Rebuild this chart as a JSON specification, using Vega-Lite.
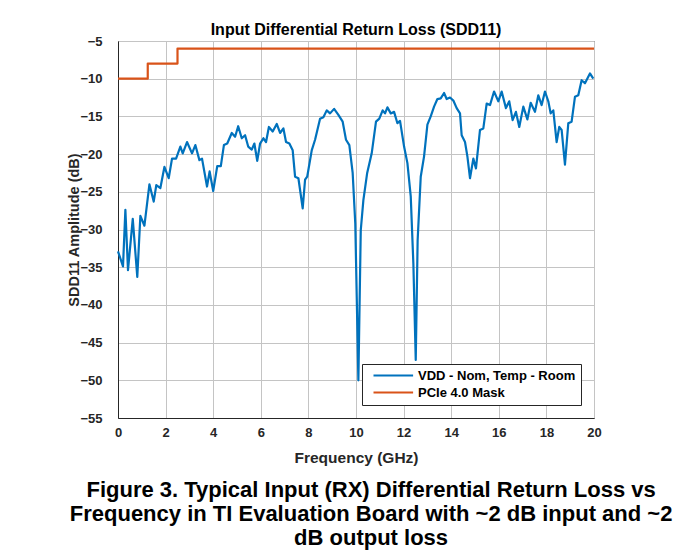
{
  "$schema": "https://vega.github.io/schema/vega-lite/v6.json",
  "background": "white",
  "padding": {"left": 66, "top": 21, "right": 5, "bottom": 3},
  "config": {
    "font": "Liberation Sans",
    "view": {"stroke": "#262626", "strokeWidth": 1},
    "axis": {
      "labelFont": "Liberation Sans", "labelFontSize": 13, "labelFontWeight": "bold", "labelColor": "#262626",
      "titleFont": "Liberation Sans", "titleFontWeight": "bold", "titleColor": "#262626",
      "domainColor": "#262626", "gridColor": "#c4c4c4", "gridOpacity": 1, "ticks": false, "labelFlush": false
    }
  },
  "resolve": {"legend": {"color": "independent"}},
  "title": {
    "text": ["Figure 3. Typical Input (RX) Differential Return Loss vs", "Frequency in TI Evaluation Board with ~2 dB input and ~2", "dB output loss"],
    "orient": "bottom", "anchor": "middle", "fontSize": 22, "fontWeight": "bold", "font": "Liberation Sans",
    "color": "black", "lineHeight": 24, "offset": 14, "dx": 37
  },
  "vconcat": [
    {
      "width": 476,
      "height": 377,
      "title": {"text": "Input Differential Return Loss (SDD11)", "fontSize": 16, "fontWeight": "bold", "font": "Liberation Sans", "color": "black", "offset": -3},
      "data": {"values": [
        {"s":"VDD - Nom, Temp - Room","o":0,"f":0.00,"v":-32.9},
        {"s":"VDD - Nom, Temp - Room","o":1,"f":0.21,"v":-34.9},
        {"s":"VDD - Nom, Temp - Room","o":2,"f":0.31,"v":-27.4},
        {"s":"VDD - Nom, Temp - Room","o":3,"f":0.42,"v":-35.4},
        {"s":"VDD - Nom, Temp - Room","o":4,"f":0.62,"v":-28.6},
        {"s":"VDD - Nom, Temp - Room","o":5,"f":0.81,"v":-36.3},
        {"s":"VDD - Nom, Temp - Room","o":6,"f":0.94,"v":-28.2},
        {"s":"VDD - Nom, Temp - Room","o":7,"f":1.11,"v":-29.5},
        {"s":"VDD - Nom, Temp - Room","o":8,"f":1.32,"v":-24.0},
        {"s":"VDD - Nom, Temp - Room","o":9,"f":1.50,"v":-26.3},
        {"s":"VDD - Nom, Temp - Room","o":10,"f":1.61,"v":-24.1},
        {"s":"VDD - Nom, Temp - Room","o":11,"f":1.78,"v":-24.5},
        {"s":"VDD - Nom, Temp - Room","o":12,"f":1.95,"v":-21.7},
        {"s":"VDD - Nom, Temp - Room","o":13,"f":2.13,"v":-23.2},
        {"s":"VDD - Nom, Temp - Room","o":14,"f":2.27,"v":-20.6},
        {"s":"VDD - Nom, Temp - Room","o":15,"f":2.44,"v":-20.6},
        {"s":"VDD - Nom, Temp - Room","o":16,"f":2.62,"v":-19.0},
        {"s":"VDD - Nom, Temp - Room","o":17,"f":2.72,"v":-19.9},
        {"s":"VDD - Nom, Temp - Room","o":18,"f":2.90,"v":-18.4},
        {"s":"VDD - Nom, Temp - Room","o":19,"f":3.11,"v":-19.9},
        {"s":"VDD - Nom, Temp - Room","o":20,"f":3.25,"v":-18.8},
        {"s":"VDD - Nom, Temp - Room","o":21,"f":3.42,"v":-20.8},
        {"s":"VDD - Nom, Temp - Room","o":22,"f":3.53,"v":-20.6},
        {"s":"VDD - Nom, Temp - Room","o":23,"f":3.74,"v":-24.3},
        {"s":"VDD - Nom, Temp - Room","o":24,"f":3.85,"v":-22.3},
        {"s":"VDD - Nom, Temp - Room","o":25,"f":4.00,"v":-24.9},
        {"s":"VDD - Nom, Temp - Room","o":26,"f":4.17,"v":-21.6},
        {"s":"VDD - Nom, Temp - Room","o":27,"f":4.32,"v":-21.6},
        {"s":"VDD - Nom, Temp - Room","o":28,"f":4.45,"v":-18.8},
        {"s":"VDD - Nom, Temp - Room","o":29,"f":4.59,"v":-18.6},
        {"s":"VDD - Nom, Temp - Room","o":30,"f":4.78,"v":-17.2},
        {"s":"VDD - Nom, Temp - Room","o":31,"f":4.92,"v":-17.7},
        {"s":"VDD - Nom, Temp - Room","o":32,"f":5.05,"v":-16.3},
        {"s":"VDD - Nom, Temp - Room","o":33,"f":5.20,"v":-17.9},
        {"s":"VDD - Nom, Temp - Room","o":34,"f":5.34,"v":-17.5},
        {"s":"VDD - Nom, Temp - Room","o":35,"f":5.47,"v":-19.0},
        {"s":"VDD - Nom, Temp - Room","o":36,"f":5.62,"v":-19.4},
        {"s":"VDD - Nom, Temp - Room","o":37,"f":5.73,"v":-18.6},
        {"s":"VDD - Nom, Temp - Room","o":38,"f":5.85,"v":-20.9},
        {"s":"VDD - Nom, Temp - Room","o":39,"f":5.97,"v":-18.6},
        {"s":"VDD - Nom, Temp - Room","o":40,"f":6.11,"v":-17.9},
        {"s":"VDD - Nom, Temp - Room","o":41,"f":6.22,"v":-18.4},
        {"s":"VDD - Nom, Temp - Room","o":42,"f":6.34,"v":-16.4},
        {"s":"VDD - Nom, Temp - Room","o":43,"f":6.50,"v":-17.0},
        {"s":"VDD - Nom, Temp - Room","o":44,"f":6.67,"v":-16.0},
        {"s":"VDD - Nom, Temp - Room","o":45,"f":6.81,"v":-17.2},
        {"s":"VDD - Nom, Temp - Room","o":46,"f":6.95,"v":-16.6},
        {"s":"VDD - Nom, Temp - Room","o":47,"f":7.06,"v":-18.4},
        {"s":"VDD - Nom, Temp - Room","o":48,"f":7.20,"v":-18.6},
        {"s":"VDD - Nom, Temp - Room","o":49,"f":7.34,"v":-19.5},
        {"s":"VDD - Nom, Temp - Room","o":50,"f":7.44,"v":-23.0},
        {"s":"VDD - Nom, Temp - Room","o":51,"f":7.58,"v":-23.2},
        {"s":"VDD - Nom, Temp - Room","o":52,"f":7.76,"v":-27.2},
        {"s":"VDD - Nom, Temp - Room","o":53,"f":7.86,"v":-23.4},
        {"s":"VDD - Nom, Temp - Room","o":54,"f":7.95,"v":-23.0},
        {"s":"VDD - Nom, Temp - Room","o":55,"f":8.14,"v":-19.5},
        {"s":"VDD - Nom, Temp - Room","o":56,"f":8.28,"v":-18.1},
        {"s":"VDD - Nom, Temp - Room","o":57,"f":8.49,"v":-15.3},
        {"s":"VDD - Nom, Temp - Room","o":58,"f":8.63,"v":-15.1},
        {"s":"VDD - Nom, Temp - Room","o":59,"f":8.77,"v":-14.2},
        {"s":"VDD - Nom, Temp - Room","o":60,"f":8.91,"v":-14.6},
        {"s":"VDD - Nom, Temp - Room","o":61,"f":9.08,"v":-14.0},
        {"s":"VDD - Nom, Temp - Room","o":62,"f":9.26,"v":-14.8},
        {"s":"VDD - Nom, Temp - Room","o":63,"f":9.44,"v":-15.7},
        {"s":"VDD - Nom, Temp - Room","o":64,"f":9.58,"v":-18.1},
        {"s":"VDD - Nom, Temp - Room","o":65,"f":9.72,"v":-18.8},
        {"s":"VDD - Nom, Temp - Room","o":66,"f":9.86,"v":-22.5},
        {"s":"VDD - Nom, Temp - Room","o":67,"f":9.97,"v":-29.2},
        {"s":"VDD - Nom, Temp - Room","o":68,"f":10.10,"v":-50.0},
        {"s":"VDD - Nom, Temp - Room","o":69,"f":10.20,"v":-30.1},
        {"s":"VDD - Nom, Temp - Room","o":70,"f":10.31,"v":-26.1},
        {"s":"VDD - Nom, Temp - Room","o":71,"f":10.47,"v":-22.5},
        {"s":"VDD - Nom, Temp - Room","o":72,"f":10.66,"v":-19.9},
        {"s":"VDD - Nom, Temp - Room","o":73,"f":10.84,"v":-15.7},
        {"s":"VDD - Nom, Temp - Room","o":74,"f":10.98,"v":-15.3},
        {"s":"VDD - Nom, Temp - Room","o":75,"f":11.12,"v":-14.2},
        {"s":"VDD - Nom, Temp - Room","o":76,"f":11.22,"v":-14.6},
        {"s":"VDD - Nom, Temp - Room","o":77,"f":11.32,"v":-13.8},
        {"s":"VDD - Nom, Temp - Room","o":78,"f":11.46,"v":-14.6},
        {"s":"VDD - Nom, Temp - Room","o":79,"f":11.60,"v":-14.4},
        {"s":"VDD - Nom, Temp - Room","o":80,"f":11.74,"v":-15.9},
        {"s":"VDD - Nom, Temp - Room","o":81,"f":11.85,"v":-15.6},
        {"s":"VDD - Nom, Temp - Room","o":82,"f":12.02,"v":-19.0},
        {"s":"VDD - Nom, Temp - Room","o":83,"f":12.16,"v":-21.2},
        {"s":"VDD - Nom, Temp - Room","o":84,"f":12.30,"v":-25.6},
        {"s":"VDD - Nom, Temp - Room","o":85,"f":12.41,"v":-34.5},
        {"s":"VDD - Nom, Temp - Room","o":86,"f":12.51,"v":-47.3},
        {"s":"VDD - Nom, Temp - Room","o":87,"f":12.59,"v":-31.4},
        {"s":"VDD - Nom, Temp - Room","o":88,"f":12.72,"v":-23.0},
        {"s":"VDD - Nom, Temp - Room","o":89,"f":12.86,"v":-20.3},
        {"s":"VDD - Nom, Temp - Room","o":90,"f":13.00,"v":-16.1},
        {"s":"VDD - Nom, Temp - Room","o":91,"f":13.14,"v":-15.0},
        {"s":"VDD - Nom, Temp - Room","o":92,"f":13.28,"v":-13.7},
        {"s":"VDD - Nom, Temp - Room","o":93,"f":13.42,"v":-12.7},
        {"s":"VDD - Nom, Temp - Room","o":94,"f":13.56,"v":-12.6},
        {"s":"VDD - Nom, Temp - Room","o":95,"f":13.70,"v":-11.9},
        {"s":"VDD - Nom, Temp - Room","o":96,"f":13.81,"v":-12.7},
        {"s":"VDD - Nom, Temp - Room","o":97,"f":13.95,"v":-12.5},
        {"s":"VDD - Nom, Temp - Room","o":98,"f":14.09,"v":-12.9},
        {"s":"VDD - Nom, Temp - Room","o":99,"f":14.23,"v":-13.9},
        {"s":"VDD - Nom, Temp - Room","o":100,"f":14.37,"v":-14.6},
        {"s":"VDD - Nom, Temp - Room","o":101,"f":14.44,"v":-17.5},
        {"s":"VDD - Nom, Temp - Room","o":102,"f":14.58,"v":-18.4},
        {"s":"VDD - Nom, Temp - Room","o":103,"f":14.68,"v":-20.3},
        {"s":"VDD - Nom, Temp - Room","o":104,"f":14.79,"v":-23.2},
        {"s":"VDD - Nom, Temp - Room","o":105,"f":14.93,"v":-20.6},
        {"s":"VDD - Nom, Temp - Room","o":106,"f":15.04,"v":-21.9},
        {"s":"VDD - Nom, Temp - Room","o":107,"f":15.21,"v":-16.8},
        {"s":"VDD - Nom, Temp - Room","o":108,"f":15.35,"v":-16.6},
        {"s":"VDD - Nom, Temp - Room","o":109,"f":15.49,"v":-13.3},
        {"s":"VDD - Nom, Temp - Room","o":110,"f":15.63,"v":-13.5},
        {"s":"VDD - Nom, Temp - Room","o":111,"f":15.80,"v":-11.7},
        {"s":"VDD - Nom, Temp - Room","o":112,"f":15.98,"v":-13.0},
        {"s":"VDD - Nom, Temp - Room","o":113,"f":16.12,"v":-11.7},
        {"s":"VDD - Nom, Temp - Room","o":114,"f":16.30,"v":-13.9},
        {"s":"VDD - Nom, Temp - Room","o":115,"f":16.44,"v":-13.0},
        {"s":"VDD - Nom, Temp - Room","o":116,"f":16.58,"v":-15.5},
        {"s":"VDD - Nom, Temp - Room","o":117,"f":16.72,"v":-14.4},
        {"s":"VDD - Nom, Temp - Room","o":118,"f":16.86,"v":-16.4},
        {"s":"VDD - Nom, Temp - Room","o":119,"f":17.03,"v":-13.7},
        {"s":"VDD - Nom, Temp - Room","o":120,"f":17.20,"v":-15.4},
        {"s":"VDD - Nom, Temp - Room","o":121,"f":17.34,"v":-13.2},
        {"s":"VDD - Nom, Temp - Room","o":122,"f":17.52,"v":-14.4},
        {"s":"VDD - Nom, Temp - Room","o":123,"f":17.66,"v":-12.2},
        {"s":"VDD - Nom, Temp - Room","o":124,"f":17.80,"v":-13.5},
        {"s":"VDD - Nom, Temp - Room","o":125,"f":17.94,"v":-11.7},
        {"s":"VDD - Nom, Temp - Room","o":126,"f":18.08,"v":-13.0},
        {"s":"VDD - Nom, Temp - Room","o":127,"f":18.18,"v":-14.6},
        {"s":"VDD - Nom, Temp - Room","o":128,"f":18.29,"v":-14.2},
        {"s":"VDD - Nom, Temp - Room","o":129,"f":18.43,"v":-18.4},
        {"s":"VDD - Nom, Temp - Room","o":130,"f":18.54,"v":-16.4},
        {"s":"VDD - Nom, Temp - Room","o":131,"f":18.64,"v":-16.8},
        {"s":"VDD - Nom, Temp - Room","o":132,"f":18.78,"v":-21.4},
        {"s":"VDD - Nom, Temp - Room","o":133,"f":18.92,"v":-15.9},
        {"s":"VDD - Nom, Temp - Room","o":134,"f":19.06,"v":-15.7},
        {"s":"VDD - Nom, Temp - Room","o":135,"f":19.20,"v":-12.4},
        {"s":"VDD - Nom, Temp - Room","o":136,"f":19.34,"v":-12.2},
        {"s":"VDD - Nom, Temp - Room","o":137,"f":19.48,"v":-10.2},
        {"s":"VDD - Nom, Temp - Room","o":138,"f":19.62,"v":-10.6},
        {"s":"VDD - Nom, Temp - Room","o":139,"f":19.83,"v":-9.3},
        {"s":"VDD - Nom, Temp - Room","o":140,"f":19.97,"v":-10.0},
        {"s":"PCIe 4.0 Mask","o":0,"f":0,"v":-10},
        {"s":"PCIe 4.0 Mask","o":1,"f":1.25,"v":-10},
        {"s":"PCIe 4.0 Mask","o":2,"f":1.25,"v":-8},
        {"s":"PCIe 4.0 Mask","o":3,"f":2.5,"v":-8},
        {"s":"PCIe 4.0 Mask","o":4,"f":2.5,"v":-6},
        {"s":"PCIe 4.0 Mask","o":5,"f":20,"v":-6}
      ]},
      "mark": {"type": "line", "strokeWidth": 2.2, "strokeJoin": "round"},
      "encoding": {
        "x": {"field": "f", "type": "quantitative",
              "scale": {"domain": [0, 20], "nice": false, "zero": false},
              "axis": {"title": "Frequency (GHz)", "titleFontSize": 15.5, "values": [0,2,4,6,8,10,12,14,16,18,20], "labelPadding": 8, "titlePadding": 11}},
        "y": {"field": "v", "type": "quantitative",
              "scale": {"domain": [-55, -5], "nice": false, "zero": false},
              "axis": {"title": "SDD11 Amplitude (dB)", "titleFontSize": 14.5, "values": [-55,-50,-45,-40,-35,-30,-25,-20,-15,-10,-5], "labelPadding": 16, "titlePadding": -2}},
        "color": {"field": "s", "type": "nominal",
                  "scale": {"domain": ["VDD - Nom, Temp - Room", "PCIe 4.0 Mask"], "range": ["#0072BD", "#D95319"]},
                  "legend": {"title": null, "orient": "bottom-right", "offset": 13, "fillColor": "white", "strokeColor": "#262626",
                             "padding": 5, "labelFont": "Liberation Sans", "labelFontSize": 13, "labelFontWeight": "bold", "labelColor": "black",
                             "symbolType": "M0,0H8.8", "symbolSize": 81, "symbolStrokeWidth": 2.2, "symbolFillColor": "transparent", "rowPadding": 3, "labelOffset": 38}},
        "order": {"field": "o", "type": "quantitative"}
      }
    }
  ]
}
